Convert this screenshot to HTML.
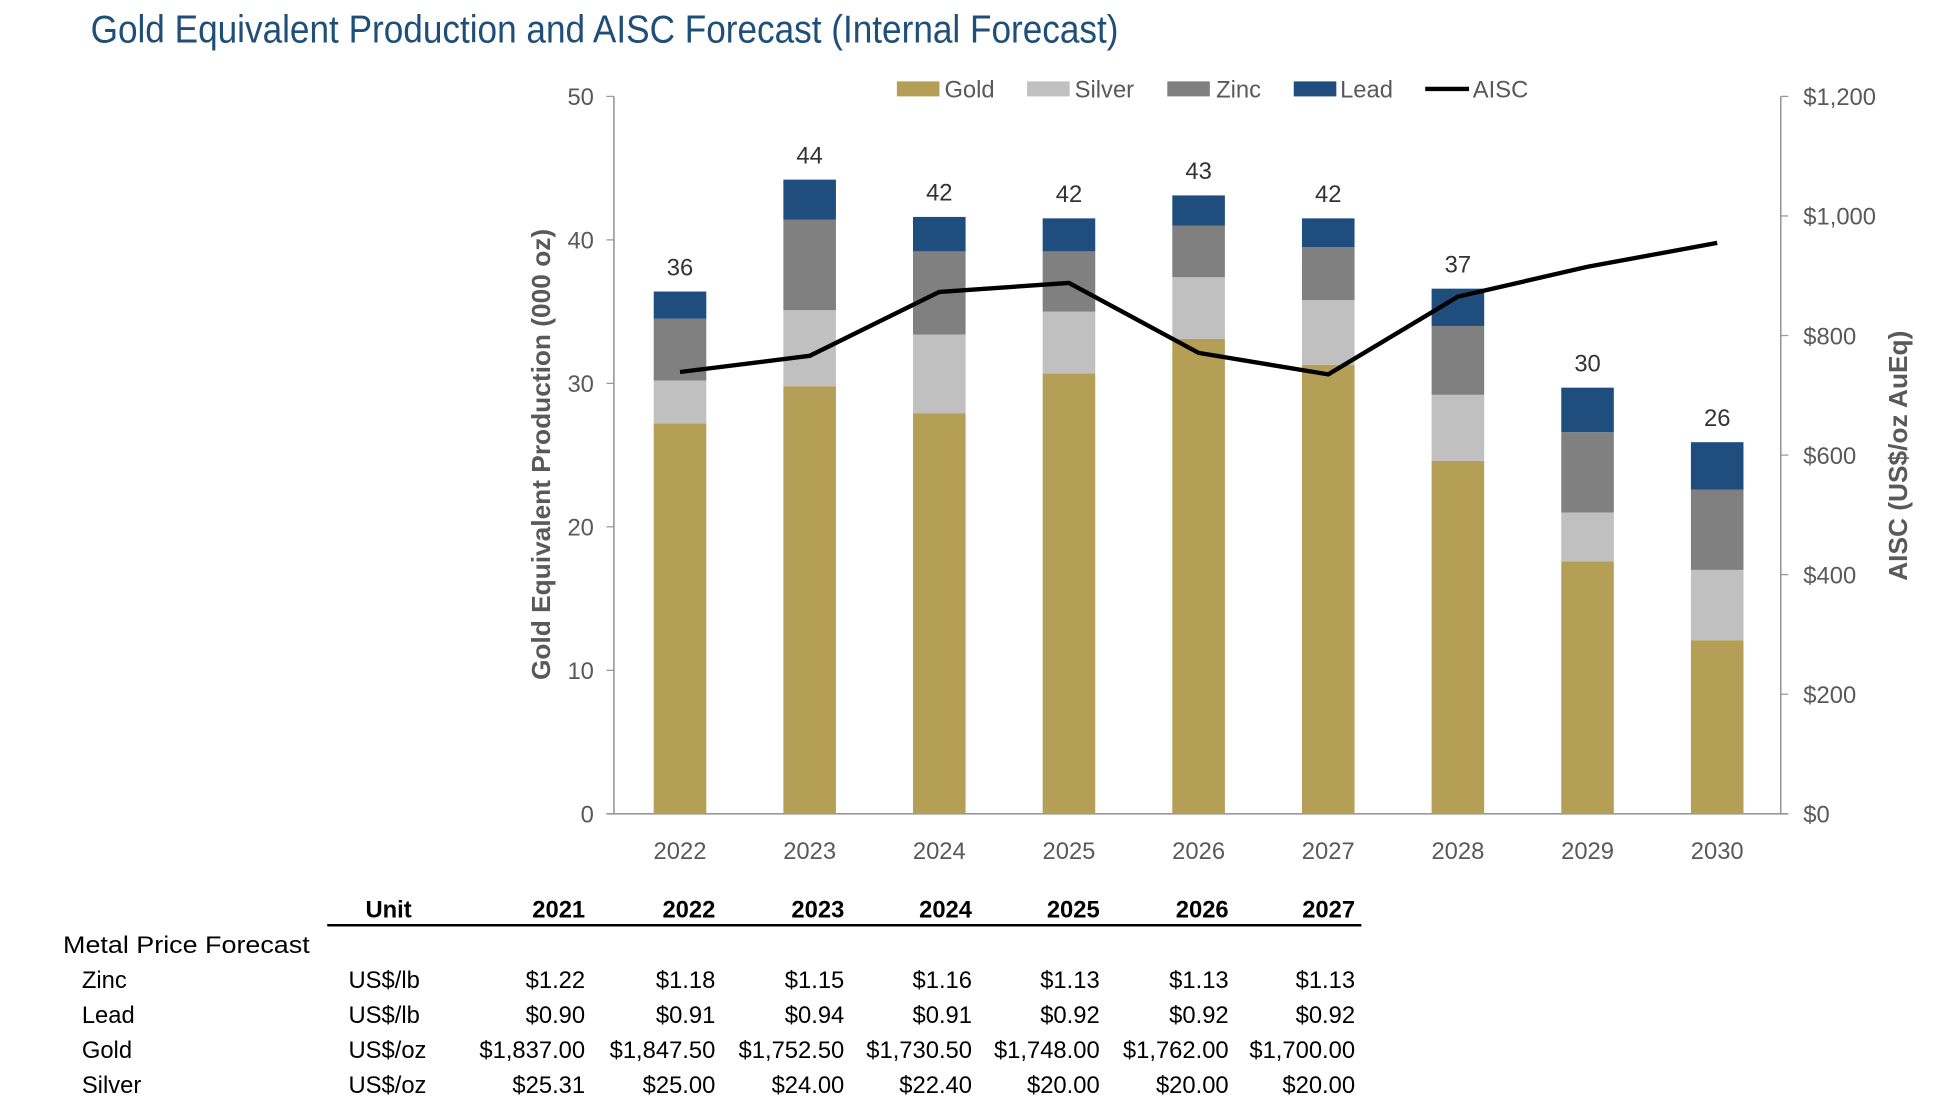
<!DOCTYPE html>
<html><head><meta charset="utf-8">
<style>
html,body{margin:0;padding:0;background:#fff;}
svg{display:block;}
text{font-family:"Liberation Sans",sans-serif;}
</style></head>
<body>
<svg id="chart" width="1954" height="1108" viewBox="0 0 1560 885" xmlns="http://www.w3.org/2000/svg">
<text x="72" y="34" font-size="31" fill="#1f4e79" textLength="821" lengthAdjust="spacingAndGlyphs">Gold Equivalent Production and AISC Forecast (Internal Forecast)</text>
<g id="axes"></g>
<g id="bars"></g>
<g id="line"></g>
<g id="legend"></g>
<g id="table" font-size="19" fill="#000"></g>
</svg>
<script>
const years = ["2022","2023","2024","2025","2026","2027","2028","2029","2030"];
const gold   = [27.2,29.8,27.9,30.7,33.1,31.3,24.6,17.6,12.1];
const silver = [3.0,5.3,5.5,4.3,4.3,4.5,4.6,3.4,4.9];
const zinc   = [4.3,6.3,5.8,4.2,3.6,3.7,4.8,5.6,5.6];
const lead   = [1.9,2.8,2.4,2.3,2.1,2.0,2.6,3.1,3.3];
const totals = ["36","44","42","42","43","42","37","30","26"];
const aisc   = [739,766,873,888,771,735,865,915,955];
const leftTicks = [0,10,20,30,40,50];
const rightTicks = [0,200,400,600,800,1000,1200];
const rightTickLabels = ["$0","$200","$400","$600","$800","$1,000","$1,200"];
const tableCols = ["2021","2022","2023","2024","2025","2026","2027"];
const tableRowNames = ["Zinc","Lead","Gold","Silver"];
const tableUnits = ["US$/lb","US$/lb","US$/oz","US$/oz"];
const tableValues = [
 ["$1.22","$1.18","$1.15","$1.16","$1.13","$1.13","$1.13"],
 ["$0.90","$0.91","$0.94","$0.91","$0.92","$0.92","$0.92"],
 ["$1,837.00","$1,847.50","$1,752.50","$1,730.50","$1,748.00","$1,762.00","$1,700.00"],
 ["$25.31","$25.00","$24.00","$22.40","$20.00","$20.00","$20.00"]
];

const NS="http://www.w3.org/2000/svg";
const X0=490,X1=1422,Y0=650,Y1=77;
const yL=v=>Y0-(v/50)*(Y0-Y1);
const yR=v=>Y0-(v/1200)*(Y0-Y1);
const band=(X1-X0)/years.length;
const xC=i=>X0+band*(i+0.5)+1;
function mk(tag,attrs,parent,txt){const e=document.createElementNS(NS,tag);for(const k in attrs)e.setAttribute(k,attrs[k]);if(txt!==undefined)e.textContent=txt;parent.appendChild(e);return e;}
const axes=document.getElementById('axes');
let e;
e=mk('line',{x1:X0,y1:Y1,x2:X0,y2:Y0,stroke:'#999','stroke-width':1.3},axes);


e=mk('line',{x1:X1,y1:Y1,x2:X1,y2:Y0,stroke:'#999','stroke-width':1.3},axes);


e=mk('line',{x1:X0-6,y1:Y0,x2:X1+6,y2:Y0,stroke:'#999','stroke-width':1.3},axes);


leftTicks.forEach(t=>{
 mk('line',{x1:X0-6,x2:X0,y1:yL(t),y2:yL(t),stroke:'#999'},axes);
 e=mk('text',{x:474,y:yL(t)+7,'text-anchor':'end','font-size':19,fill:'#595959'},axes,String(t));
 
 
});
rightTicks.forEach((t,i)=>{
 mk('line',{x1:X1,x2:X1+6,y1:yR(t),y2:yR(t),stroke:'#999'},axes);
 e=mk('text',{x:1440,y:yR(t)+7,'font-size':19,fill:'#595959'},axes,rightTickLabels[i]);
 
 
});
years.forEach((y,i)=>{
 e=mk('text',{x:xC(i),y:686,'text-anchor':'middle','font-size':19,fill:'#595959'},axes,y);
 
 
});
e=mk('text',{transform:'translate(439,363) rotate(-90)','text-anchor':'middle','font-size':21,'font-weight':'bold',fill:'#595959'},axes,'Gold Equivalent Production (000 oz)');


e=mk('text',{transform:'translate(1523,364) rotate(-90)','text-anchor':'middle','font-size':21,'font-weight':'bold',fill:'#595959'},axes,'AISC (US$/oz AuEq)');



const bars=document.getElementById('bars');
const series=[["gold",gold,"#b59f57"],["silver",silver,"#c0c0c0"],["zinc",zinc,"#808080"],["lead",lead,"#1f4e7e"]];
const BW=42;
years.forEach((y,i)=>{
 let base=0;
 series.forEach(([n,arr,c])=>{
  const top=base+arr[i];
  e=mk('rect',{x:xC(i)-BW/2,y:yL(top),width:BW,height:yL(base)-yL(top),fill:c},bars);
  
  
  base=top;
 });
 e=mk('text',{x:xC(i),y:yL(base)-13,'text-anchor':'middle','font-size':19,fill:'#333'},bars,totals[i]);
 
 
});
const lg=document.getElementById('line');
e=mk('polyline',{points:aisc.map((v,i)=>xC(i)+','+yR(v)).join(' '),fill:'none',stroke:'#000','stroke-width':3.5,'stroke-linejoin':'round'},lg);



const leg=document.getElementById('legend');
const legItems=[["Gold","#b59f57",716,754],["Silver","#c0c0c0",820,858],["Zinc","#808080",932,971],["Lead","#1f4e7e",1033,1070]];
legItems.forEach(([n,c,sx,tx])=>{
 e=mk('rect',{x:sx,y:65,width:34,height:12,fill:c},leg);
 
 
 e=mk('text',{x:tx,y:78,'font-size':19,fill:'#595959'},leg,n);
 
 
});
e=mk('line',{x1:1138,x2:1173,y1:71,y2:71,stroke:'#000','stroke-width':3.5},leg);


e=mk('text',{x:1176,y:78,'font-size':19,fill:'#595959'},leg,'AISC');



const tb=document.getElementById('table');
const colR=[467,571,674,776,878,981,1082];
e=mk('text',{x:310,y:733,'text-anchor':'middle','font-weight':'bold'},tb,'Unit');


tableCols.forEach((c,j)=>{
 e=mk('text',{x:colR[j],y:733,'text-anchor':'end','font-weight':'bold'},tb,c);
 
 
});
e=mk('line',{x1:261,x2:1087,y1:739,y2:739,stroke:'#000','stroke-width':2},tb);


e=mk('text',{x:50,y:761,textLength:197,lengthAdjust:'spacingAndGlyphs'},tb,'Metal Price Forecast');


tableRowNames.forEach((r,i)=>{
 const yy=789+i*28;
 e=mk('text',{x:65,y:yy},tb,r);
 
 
 e=mk('text',{x:278,y:yy},tb,tableUnits[i]);
 
 
 tableValues[i].forEach((v,j)=>{
  e=mk('text',{x:colR[j],y:yy,'text-anchor':'end'},tb,v);
  
  
 });
});
</script>
</body></html>
